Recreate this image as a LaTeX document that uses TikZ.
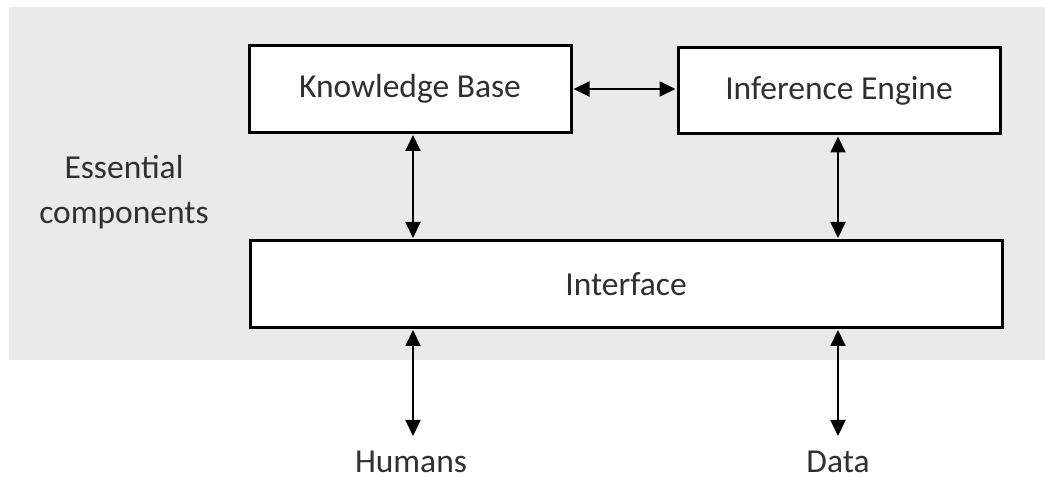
\documentclass[tikz,border=0pt]{standalone}
\usepackage{fontspec}
\setmainfont{Carlito}
\usetikzlibrary{arrows.meta}
\definecolor{bggray}{HTML}{EAEAEA}
\definecolor{txt}{HTML}{303030}
\begin{document}
\begin{tikzpicture}[x=1pt,y=-1pt,
  box/.style={draw=black,line width=3pt,fill=white,inner sep=0pt,font=\fontsize{33.5}{40}\selectfont,text=txt},
  lbl/.style={font=\fontsize{33.5}{45}\selectfont,text=txt,align=center,inner sep=0pt},
  endlbl/.style={font=\fontsize{33.5}{40}\selectfont,text=txt,inner sep=0pt,anchor=base},
  conn/.style={line width=2pt,{Triangle[length=16pt,width=15pt]}-{Triangle[length=16pt,width=15pt]},shorten <=1pt,shorten >=1pt}]
\useasboundingbox (0,0) rectangle (1045,478);
\fill[bggray] (9,7) rectangle (1045,360);
\node[box,minimum width=322pt,minimum height=87pt] (kb) at (410,89) {Knowledge Base};
\node[box,minimum width=322pt,minimum height=86pt] (ie) at (839,91) {Inference Engine};
\node[box,minimum width=752pt,minimum height=87pt] (if) at (626,284) {Interface};
\node[lbl] (ess) at (124,192) {Essential\\components};
\node[endlbl] (hum) at (411,472) {Humans};
\node[endlbl] (dat) at (838,472) {Data};
\coordinate (hTop) at (413,437);
\coordinate (dTop) at (838,437);
\draw[conn] (kb.east |- 0,89) -- (ie.west |- 0,89);
\draw[conn] (kb.south -| 413,0) -- (if.north -| 413,0);
\draw[conn] (ie.south -| 838,0) -- (if.north -| 838,0);
\draw[conn] (if.south -| 413,0) -- (hTop);
\draw[conn] (if.south -| 838,0) -- (dTop);
\end{tikzpicture}
\end{document}
